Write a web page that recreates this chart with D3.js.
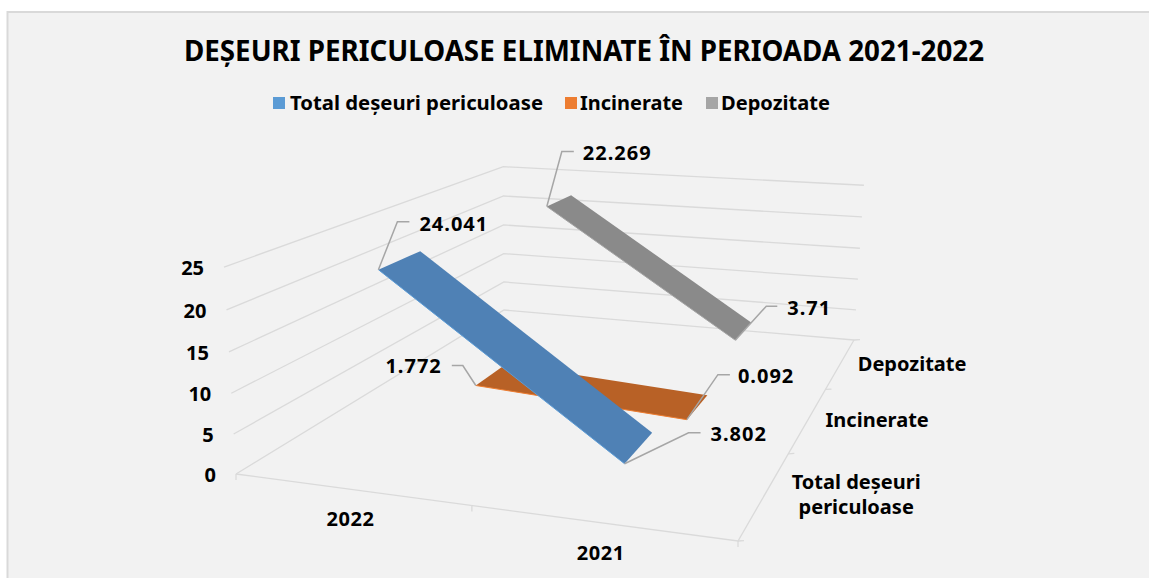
<!DOCTYPE html>
<html><head><meta charset="utf-8">
<style>
html,body{margin:0;padding:0;background:#fff;overflow:hidden}
svg{display:block}
text{font-family:"Noto Sans",sans-serif;font-weight:700;fill:#000}
</style>
<script src="https://cdn.jsdelivr.net/npm/d3@7/dist/d3.min.js"></script>
</head><body><svg id="c" width="1149" height="578"></svg>
<script>
// ---- data ----
const years = ["2022", "2021"];
const seriesNames = ["Total deșeuri periculoase", "Incinerate", "Depozitate"];
const totalValues = [24.041, 3.802];
const incineratedValues = [1.772, 0.092];
const depositedValues = [22.269, 3.71];
const valueTicks = [0, 5, 10, 15, 20, 25];
const titleText = "DEȘEURI PERICULOASE ELIMINATE ÎN PERIOADA 2021-2022";

// ---- style ----
const fills = ["#4F81B5", "#B86126", "#8A8A8A"];
const edges = ["#5B9BD5", "#ED7D31", "#A5A5A5"];
const legendColors = ["#5B9BD5", "#ED7D31", "#A5A5A5"];
const gridColor = "#DADADA";

// ---- 3D projection: floor homography + vertical vanishing point ----
const A = [236, 474], B = [738, 541], C = [854, 340], D = [504, 310];
const V = [525, 5466], alpha = -0.0398;
const det = (p, q) => p[0] * q[1] - q[0] * p[1];
const dx1 = [B[0] - C[0], B[1] - C[1]], dx2 = [D[0] - C[0], D[1] - C[1]];
const sum = [A[0] - B[0] + C[0] - D[0], A[1] - B[1] + C[1] - D[1]];
const g = det(sum, dx2) / det(dx1, dx2), h = det(dx1, sum) / det(dx1, dx2);
const h1 = [B[0] * (1 + g) - A[0], B[1] * (1 + g) - A[1], g];
const h2 = [D[0] * (1 + h) - A[0], D[1] * (1 + h) - A[1], h];
function project(u, w, v) {
  const X = A[0] + u * h1[0] + v * h2[0] + w * alpha * V[0];
  const Y = A[1] + u * h1[1] + v * h2[1] + w * alpha * V[1];
  const W = 1 + u * h1[2] + v * h2[2] + w * alpha;
  return [X / W, Y / W];
}

// ---- scales ----
const xBand = d3.scaleBand().domain(years).range([0, 1]);
const zBand = d3.scaleBand().domain(seriesNames).range([0, 1]);
const yScale = d3.scaleLinear().domain([0, 25]).range([0, 1]);
const xMid = y => xBand(y) + xBand.bandwidth() / 2;

const svg = d3.select("#c");
const line = d3.line();

// frame
svg.append("rect").attr("x", 7.5).attr("y", 12).attr("width", 1145).attr("height", 570)
  .attr("fill", "#F2F2F2").attr("stroke", "#D9D9D9").attr("stroke-width", 2);

// title
svg.append("text").attr("x", 584).attr("y", 60.5).attr("text-anchor", "middle")
  .attr("font-size", 28).attr("textLength", 800).attr("lengthAdjust", "spacingAndGlyphs").text(titleText);

// legend
const legendLayout = [{ sx: 273, tx: 290, tw: 253 }, { sx: 565, tx: 580, tw: 103 }, { sx: 706, tx: 721, tw: 109 }];
seriesNames.forEach((n, i) => {
  const l = legendLayout[i];
  svg.append("rect").attr("x", l.sx).attr("y", 97).attr("width", 12).attr("height", 12).attr("fill", legendColors[i]);
  svg.append("text").attr("x", l.tx).attr("y", 110).attr("font-size", 20)
    .attr("textLength", l.tw).attr("lengthAdjust", "spacingAndGlyphs").text(n);
});

// walls + floor grid
const gridG = svg.append("g").attr("fill", "none").attr("stroke", gridColor).attr("stroke-width", 1.3);
valueTicks.forEach(t => {
  const w = yScale(t);
  gridG.append("path").attr("d", line([project(0, w, 0), project(0, w, 1), project(1, w, 1)]));
});
// floor edges
gridG.append("path").attr("d", line([project(0, 0, 0), project(1, 0, 0), project(1, 0, 1)]));
// x ticks (downward)
[0, 0.5, 1].forEach(u => {
  const p = project(u, 0, 0);
  gridG.append("path").attr("d", line([p, [p[0], p[1] + 6]]));
});
// depth ticks (along x)
[0, 1 / 3, 2 / 3, 1].forEach(v => {
  const p = project(1, 0, v);
  gridG.append("path").attr("d", line([p, [p[0] + 6, p[1] - 0.4]]));
});

// value axis labels
valueTicks.forEach(t => {
  const p = project(0, yScale(t), 0);
  svg.append("text").attr("x", p[0] - 20).attr("y", p[1] + 8).attr("text-anchor", "end").attr("font-size", 20).text(t);
});
// year labels
years.forEach(y => {
  const p = project(xMid(y), 0, 0);
  svg.append("text").attr("x", p[0]).attr("y", p[1] + 37).attr("text-anchor", "middle").attr("font-size", 20)
    .attr("letter-spacing", 0.6).text(y);
});
// depth labels
const depthLayout = [{ dx: 91, dy: 0, lines: ["Total deșeuri", "periculoase"] }, { dx: 69, dy: 0.5, lines: ["Incinerate"] }, { dx: 71.5, dy: 0.5, lines: ["Depozitate"] }];
seriesNames.forEach((n, i) => {
  const p = project(1, 0, zBand(n) + zBand.bandwidth() / 2), l = depthLayout[i];
  l.lines.forEach((s, k) => {
    const y = p[1] + l.dy + (k - (l.lines.length - 1) / 2) * 25 + 7.5;
    svg.append("text").attr("x", p[0] + l.dx).attr("y", y).attr("text-anchor", "middle").attr("font-size", 20).text(s);
  });
});

// ribbons back to front
const seriesValues = [totalValues, incineratedValues, depositedValues];
const leaderLayout = [
  [{ e: [19, -48], end: 12, tx: 10, ty: 9 }, { e: [64, -31], end: 12, tx: 10, ty: 8 }],
  [{ e: [-13, -20], end: -11, tx: -10, ty: 8 }, { e: [31, -45], end: 12, tx: 8, ty: 8 }],
  [{ e: [15, -55], end: 12, tx: 9, ty: 8 }, { e: [31, -34], end: 11, tx: 10, ty: 9 }]
];
const ribbonG = svg.append("g"), leaderG = svg.append("g");
[2, 1, 0].forEach(i => {
  const n = seriesNames[i], vals = seriesValues[i];
  const v0 = zBand(n) + zBand.bandwidth() * 0.3, v1 = zBand(n) + zBand.bandwidth() * 0.7;
  const u0 = xMid(years[0]), u1 = xMid(years[1]);
  const w0 = yScale(vals[0]), w1 = yScale(vals[1]);
  const f0 = project(u0, w0, v0), f1 = project(u1, w1, v0), b1 = project(u1, w1, v1), b0 = project(u0, w0, v1);
  ribbonG.append("path").attr("d", line([f0, f1, b1, b0]) + "Z").attr("fill", fills[i]);
  ribbonG.append("path").attr("d", line([f0, f1])).attr("stroke", edges[i]).attr("stroke-width", 1).attr("fill", "none");
  [f0, f1].forEach((p, k) => {
    const l = leaderLayout[i][k];
    const e = [p[0] + l.e[0], p[1] + l.e[1]], q = [e[0] + l.end, e[1]];
    leaderG.append("path").attr("d", line([p, e, q])).attr("fill", "none").attr("stroke", "#A6A6A6").attr("stroke-width", 1.5);
    svg.append("text").attr("x", q[0] + l.tx).attr("y", q[1] + l.ty).attr("font-size", 20)
      .attr("letter-spacing", 1)
      .attr("text-anchor", l.end > 0 ? "start" : "end").text(vals[k]);
  });
});
</script></body></html>
